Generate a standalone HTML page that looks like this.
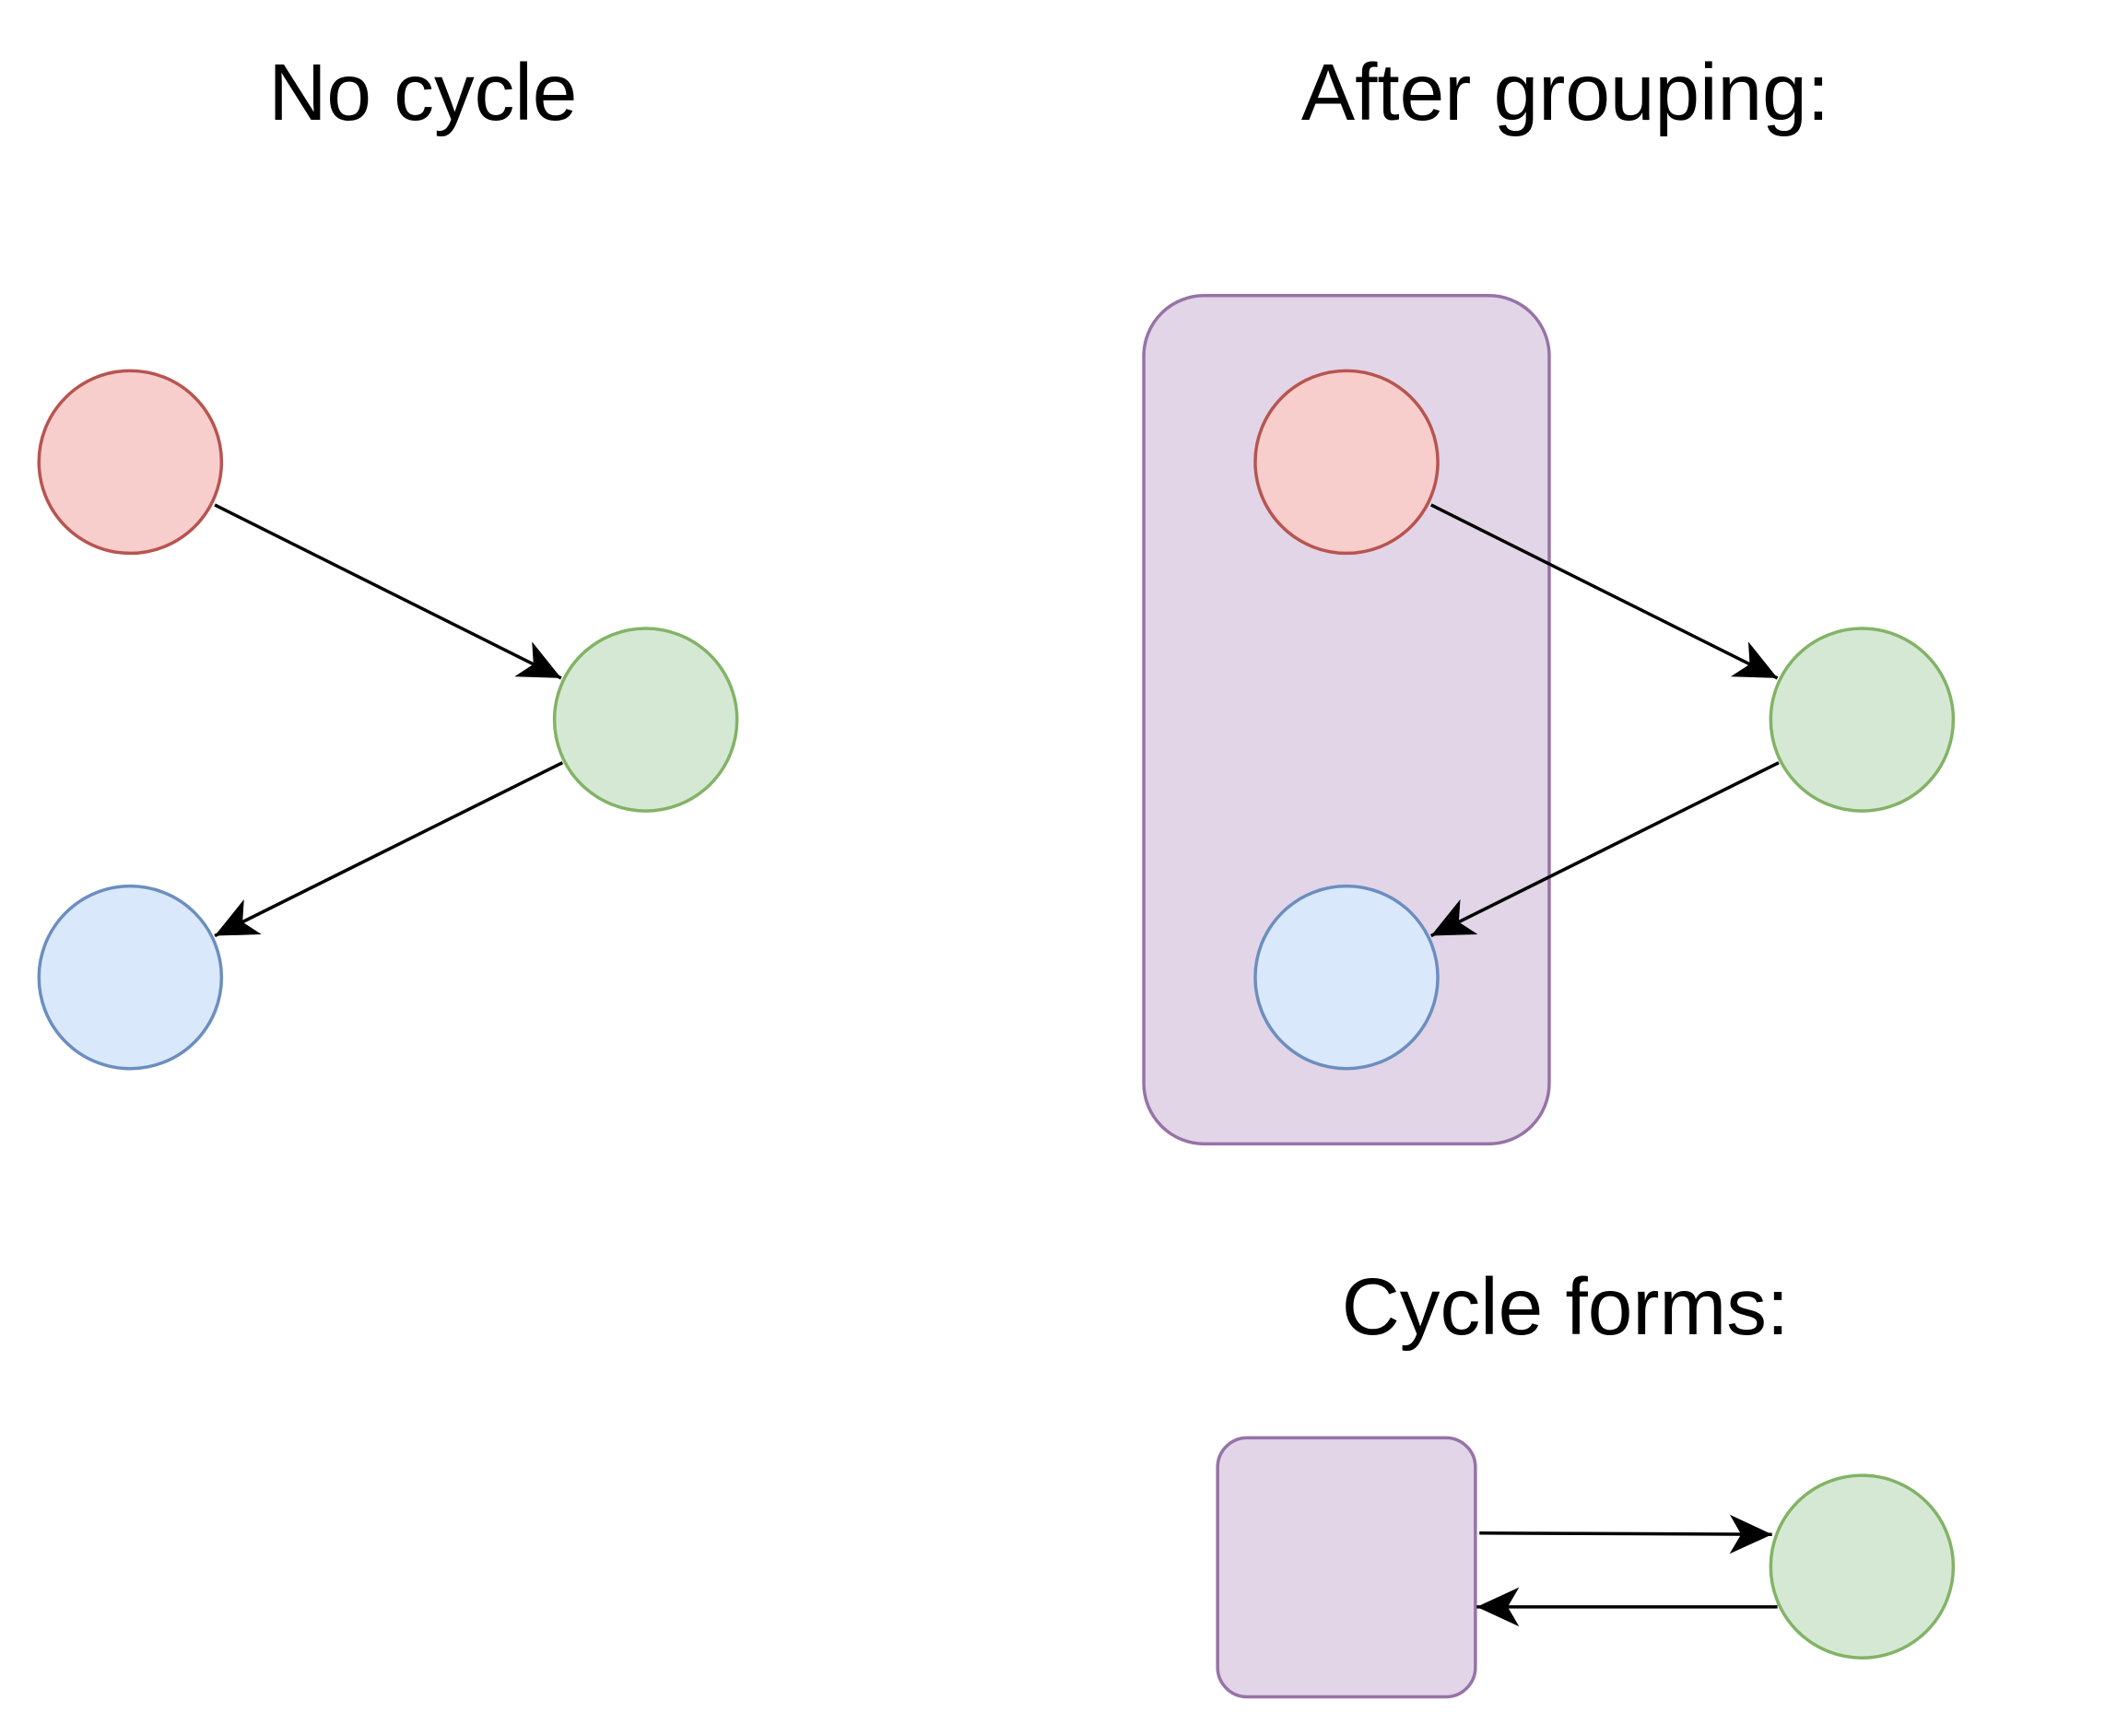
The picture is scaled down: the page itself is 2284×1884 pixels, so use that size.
<!DOCTYPE html>
<html><head><meta charset="utf-8"><style>
html,body{margin:0;padding:0;background:#fff;}
svg{display:block;}
text{font-family:"Liberation Sans",Arial,sans-serif;font-size:60px;fill:#000;text-anchor:middle;}
</style></head><body>
<svg width="2284" height="1884" viewBox="0 0 1568 1293" xmlns="http://www.w3.org/2000/svg">
<defs>
<marker id="a" markerUnits="userSpaceOnUse" markerWidth="34" markerHeight="34" viewBox="-26 -13 28 26" refX="0" refY="0" orient="auto">
<path d="M0,0 L-26,-12 L-19,0 L-26,12 Z" fill="#000"/>
</marker>
</defs>
<text x="315" y="89">No cycle</text>
<text x="1166" y="89">After grouping:</text>
<text x="1166" y="994">Cycle forms:</text>

<g stroke-width="2.4">
<circle cx="97" cy="344" r="68" fill="#f8cecc" stroke="#b85450"/>
<circle cx="481" cy="536" r="68" fill="#d5e8d4" stroke="#82b366"/>
<circle cx="97" cy="728" r="68" fill="#dae8fc" stroke="#6c8ebf"/>

<rect x="852" y="220" width="302" height="632" rx="45" fill="#e1d5e7" stroke="#9673a6"/>
<circle cx="1003" cy="344" r="68" fill="#f8cecc" stroke="#b85450"/>
<circle cx="1387" cy="536" r="68" fill="#d5e8d4" stroke="#82b366"/>
<circle cx="1003" cy="728" r="68" fill="#dae8fc" stroke="#6c8ebf"/>

<rect x="907" y="1071" width="192" height="193" rx="22" fill="#e1d5e7" stroke="#9673a6"/>
<circle cx="1387" cy="1167" r="68" fill="#d5e8d4" stroke="#82b366"/>
</g>

<g stroke="#000" stroke-width="2.4" fill="none" marker-end="url(#a)">
<line x1="160" y1="376" x2="418" y2="505"/>
<line x1="419" y1="568" x2="160" y2="697"/>
<line x1="1066" y1="376" x2="1324" y2="505"/>
<line x1="1325" y1="568" x2="1066" y2="697"/>
<line x1="1102" y1="1142" x2="1320" y2="1143"/>
<line x1="1324" y1="1197" x2="1100" y2="1197"/>
</g>
</svg>
</body></html>
